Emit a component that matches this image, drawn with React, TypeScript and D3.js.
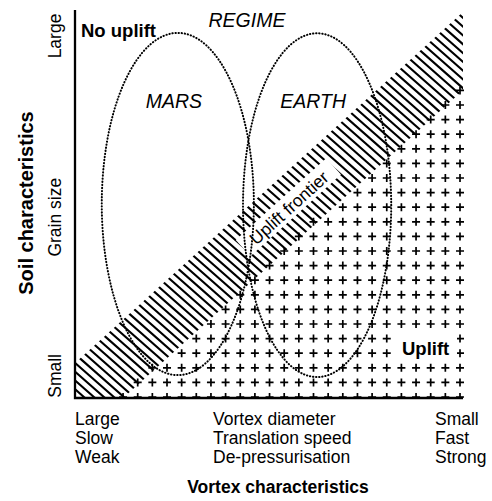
import React from 'react';
import * as d3 from 'd3';

// axis labels
const bottomLeftLabels = ['Large', 'Slow', 'Weak'];
const bottomMidLabels = ['Vortex diameter', 'Translation speed', 'De-pressurisation'];
const bottomRightLabels = ['Small', 'Fast', 'Strong'];
const soilLabels = ['Small', 'Grain size', 'Large'];
const soilLabelAt = [0.057, 0.466, 0.933];

// regimes (vortex axis 0..1, soil axis 0..1)
const regimeNames = ['MARS', 'EARTH'];
const regimeVortex = [0.265, 0.624];
const regimeVortexSpread = [0.196, 0.191];
const regimeSoil = [0.5, 0.497];
const regimeSoilSpread = [0.441, 0.443];

// uplift frontier band edges [vortex, soil]
const frontierUpper: [number, number][] = [[0, 0.09], [1, 0.995]];
const frontierLower: [number, number][] = [[0.124, 0], [1, 0.793]];

const font = 'Liberation Sans, Arial, Helvetica, sans-serif';

const App: React.FC = () => {
  const width = 492;
  const height = 501;

  const x = d3.scaleLinear().domain([0, 1]).range([75, 463]);
  const y = d3.scaleLinear().domain([0, 1]).range([398, 10]);

  const upper = d3.scaleLinear().domain(frontierUpper.map(d => d[0])).range(frontierUpper.map(d => d[1]));
  const lower = d3.scaleLinear().domain(frontierLower.map(d => d[0])).range(frontierLower.map(d => d[1]));

  const band: [number, number][] = [
    [x(0), y(upper(0))],
    [x(1), y(upper(1))],
    [x(1), y(lower(1))],
    [x(frontierLower[0][0]), y(0)],
    [x(0), y(0)],
  ];
  const bandPath = d3.line()(band) + 'Z';

  // hatch lines "\" inside the band
  const hatchSlope = 0.88;
  const hatchStep = 10;
  const hatch = d3.range(-5, 95).map(k => {
    const x0 = x(0) + k * hatchStep;
    return `M${x0 - 500},${y(0) - hatchSlope * 500}L${x0 + 60},${y(0) + hatchSlope * 60}`;
  }).join('');

  // crosses in the uplift zone
  const colStep = 14.65;
  const rowStep = 14.6;
  const cols = d3.range(0, 25).map(k => x(1) - 3 - k * colStep).filter(c => c > x(0) + 4);
  const rows = d3.range(0, 24).map(j => y(0) - 1 - j * rowStep).filter(r => r > y(1));
  const arm = 4;
  let crosses = '';
  rows.forEach(r => {
    cols.forEach(c => {
      const edge = y(lower(x.invert(c)));
      if (r > edge - 5) {
        crosses += `M${c - arm},${r}H${c + arm}M${c},${r - arm}V${r + arm}`;
      }
    });
  });

  const slopeDeg = -Math.atan(Math.abs((y(upper(1)) - y(upper(0))) / (x(1) - x(0)))) * 180 / Math.PI;

  const lineH = 19;

  return (
    <svg width={width} height={height} style={{ position: 'absolute', left: 0, top: 0, background: '#fff' }}
      fontFamily={font}>
      <defs>
        <clipPath id="bandClip">
          <path d={bandPath} />
        </clipPath>
        <clipPath id="plotClip">
          <rect x={x(0)} y={0} width={x(1) - x(0) + 10} height={y(0)} />
        </clipPath>
      </defs>

      <g clipPath="url(#bandClip)">
        <path d={hatch} stroke="#000" strokeWidth={2.1} fill="none" />
      </g>

      <g clipPath="url(#plotClip)">
        <path d={crosses} stroke="#000" strokeWidth={1.7} fill="none" />
      </g>

      {/* knockouts behind labels */}
      <rect x={394} y={331} width={63} height={31} fill="#fff" />
      <g transform={`translate(289,208) rotate(${slopeDeg})`}>
        <rect x={-61} y={-12} width={122} height={22} fill="#fff" />
        <text x={0} y={6} textAnchor="middle" fontSize={17.5}>Uplift frontier</text>
      </g>

      {/* regimes */}
      {regimeNames.map((n, i) => (
        <ellipse key={n}
          cx={x(regimeVortex[i])} cy={y(regimeSoil[i])}
          rx={x(regimeVortexSpread[i]) - x(0)} ry={y(0) - y(regimeSoilSpread[i])}
          fill="none" stroke="#000" strokeWidth={2}
          strokeDasharray="0.4 2.7" strokeLinecap="round" />
      ))}
      {regimeNames.map((n, i) => (
        <text key={n} x={x(regimeVortex[i]) - 4} y={108} textAnchor="middle"
          fontSize={19.5} fontStyle="italic">{n}</text>
      ))}
      <text x={247} y={27} textAnchor="middle" fontSize={19.5} fontStyle="italic">REGIME</text>

      <text x={81} y={37} fontSize={18.5} fontWeight="bold">No uplift</text>
      <text x={402} y={355} fontSize={18.5} fontWeight="bold">Uplift</text>

      {/* axes */}
      <path d={`M${x(0)},${y(1)}V${y(0)}H${x(1)}`} fill="none" stroke="#000" strokeWidth={2.3} />

      {/* soil axis labels */}
      {soilLabels.map((l, i) => (
        <text key={l} transform={`translate(61,${y(soilLabelAt[i])}) rotate(-90)`}
          textAnchor="middle" fontSize={17.5}>{l}</text>
      ))}
      <text transform={`translate(33,203) rotate(-90)`} textAnchor="middle"
        fontSize={20} fontWeight="bold">Soil characteristics</text>

      {/* vortex axis labels */}
      {bottomLeftLabels.map((l, i) => (
        <text key={l} x={75} y={425 + i * lineH} fontSize={17.5}>{l}</text>
      ))}
      {bottomMidLabels.map((l, i) => (
        <text key={l} x={213} y={425 + i * lineH} fontSize={17.5}>{l}</text>
      ))}
      {bottomRightLabels.map((l, i) => (
        <text key={l} x={435} y={425 + i * lineH} fontSize={17.5}>{l}</text>
      ))}
      <text x={278} y={493} textAnchor="middle" fontSize={17.5} fontWeight="bold">Vortex characteristics</text>
    </svg>
  );
};

export default App;
